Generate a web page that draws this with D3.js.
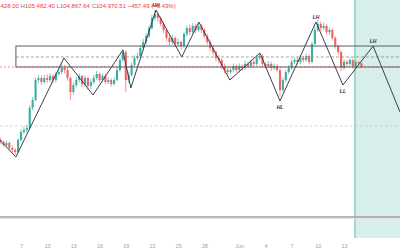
<!DOCTYPE html>
<html>
<head>
<meta charset="utf-8">
<script src="https://cdn.jsdelivr.net/npm/d3@7"></script>
<style>
  html, body { margin: 0; padding: 0; background: #fff; overflow: hidden; }
  text { font-family: "Liberation Sans", Arial, sans-serif; }
</style>
</head>
<body>
<div id="chart"></div>
<script>
const colorpel = {
    'up': '#26a69a', 'down': '#ef5350', 'zig': '#3f3f46', 'box': '#5d5d63',
    'price': '#f23645', 'proj': '#d7eeea', 'projEdge': '#5bbba9',
    'axis': '#9ea2ab', 'level': '#a0a0a0', 'label': '#787b86'}

let width = 400, height = 250;

// 8h candles, first one at May 4 16:00
const candleStart = '2025-05-04T16:00';
const firstOpen = 96100;
const closes = [
    95850, 95485, 95728, 95120, 94877, 94634, 96093, 97066, 97309, 97552,
    100000, 100960, 103390, 103630, 103150, 103630, 103390, 103880, 103390, 104120,
    104360, 104850, 104600, 103630, 101930, 102780, 103390, 103880, 102900, 103630,
    102660, 103150, 103630, 104120, 103390, 103880, 103150, 103390, 102900, 103390,
    104600, 105820, 106790, 103390, 104000, 105210, 106060, 106310, 107280, 108010,
    108740, 109710, 110930, 111410, 110930, 110200, 109470, 108500, 108010, 108500,
    107770, 108010, 107520, 108980, 109710, 109230, 109960, 109470, 109960, 109470,
    108740, 108010, 107280, 106790, 106060, 105820, 105090, 104600, 104360, 104600,
    105090, 104600, 105090, 104850, 105340, 105090, 105580, 105340, 106060, 106310,
    105340, 105090, 105340, 104850, 105090, 104600, 102170, 103390, 104360, 104850,
    105580, 105820, 105580, 106060, 105820, 106310, 105580, 107770, 109470, 110200,
    109710, 109960, 109230, 109470, 108500, 107520, 106790, 104850, 105580, 105340,
    105820, 105090, 105580, 105430, 104970];
const highs = [
    96350, 96050, 96000, 95900, 95400, 95100, 96300, 97400, 97700, 97900,
    100300, 101300, 103700, 104000, 103900, 104000, 104100, 104200, 104100, 104400,
    104700, 105300, 105200, 104900, 103800, 103100, 103800, 104200, 104000, 103900,
    103800, 103500, 104000, 104500, 104300, 104200, 104100, 103700, 103600, 103700,
    104900, 106100, 107100, 107000, 104400, 105500, 106400, 106700, 107600, 108400,
    109100, 110000, 111300, 111900, 111700, 111200, 110500, 109700, 108800, 108900,
    108700, 108400, 108200, 109300, 110000, 110100, 110300, 110200, 110300, 110200,
    109700, 109000, 108300, 107600, 107000, 106400, 106000, 105400, 104900, 104900,
    105400, 105300, 105400, 105300, 105700, 105600, 105900, 105800, 106400, 106600,
    106500, 105600, 105700, 105600, 105400, 105300, 104800, 103700, 104600, 105200,
    105900, 106100, 106100, 106400, 106300, 106600, 106500, 108000, 109800, 110690,
    110500, 110400, 110200, 109800, 109700, 108700, 107700, 107000, 105900, 105800,
    106100, 106000, 105800, 105700, 105482];
const lows = [
    95600, 95300, 95200, 94900, 94500, 94300, 94500, 95900, 96800, 97000,
    97400, 99700, 100800, 103000, 102800, 102900, 103000, 103100, 103000, 103100,
    103900, 104100, 104200, 103300, 100960, 101600, 102500, 103100, 102500, 102600,
    102200, 102300, 102900, 103400, 103100, 103100, 102900, 102900, 102600, 102700,
    103200, 104400, 105600, 101930, 103000, 103800, 105000, 105800, 106100, 107000,
    107800, 108500, 109500, 110600, 110500, 109900, 109100, 108100, 107600, 107700,
    107400, 107500, 107100, 107300, 108700, 108900, 109000, 109100, 109200, 109100,
    108400, 107700, 106900, 106400, 105700, 105400, 104700, 104200, 104000, 104100,
    104300, 104300, 104300, 104500, 104600, 104800, 104800, 105000, 105100, 105800,
    105000, 104800, 104800, 104500, 104600, 104300, 101400, 101900, 103100, 104100,
    104600, 105300, 105300, 105300, 105500, 105600, 105300, 105400, 107500, 109200,
    109400, 109500, 108900, 108900, 108200, 107200, 106400, 104500, 104600, 105000,
    105100, 104800, 104900, 105200, 104868];

// zigzag pivots
const pivotTimes = [
    '2025-05-04T14:00', '2025-05-06T10:00', '2025-05-11T22:00', '2025-05-15T06:00',
    '2025-05-18T16:00', '2025-05-19T14:00', '2025-05-22T11:00', '2025-05-25T10:00',
    '2025-05-27T09:00', '2025-05-30T22:00', '2025-06-03T09:00', '2025-06-05T16:00',
    '2025-06-09T19:00', '2025-06-12T21:00', '2025-06-16T08:00', '2025-06-19T10:00'];
const pivotPrices = [
    96090, 94030, 106060, 101570, 107040, 102420, 111900, 106190,
    110440, 103390, 106670, 100840, 110440, 102780, 107520, 99500];
const pivotLabels = ['', '', '', '', '', '', 'HH', '', '', '', '', 'HL', 'LH', 'LL', 'LH', ''];

const tickDates = ['2025-05-07', '2025-05-10', '2025-05-13', '2025-05-16', '2025-05-19',
    '2025-05-22', '2025-05-25', '2025-05-28', '2025-06-01', '2025-06-04', '2025-06-07',
    '2025-06-10', '2025-06-13'];
const tickLabels = ['7', '10', '13', '16', '19', '22', '25', '28', 'Jun', '4', '7', '10', '13'];

const boxStart = '2025-05-06T10:00';
const boxLevels = [107520, 106190, 104970]; // top, mid, bottom
const lastPrice = 104970;
const dashedLevel = 97800, solidLevel = 86730;
const projStart = '2025-06-14T06:00';

// legend, as much of it as the window shows
const header = [['428.00 ', 'price'], ['H', 'label'], ['105,482.40 ', 'price'],
    ['L', 'label'], ['104,867.64 ', 'price'], ['C', 'label'], ['104,970.51 ', 'price'],
    ['\u2212457.49 (\u22120.43%)', 'price']];

const parse = s => new Date(s);
const hour = 3600 * 1000;

let x = d3.scaleTime()
    .domain([parse('2025-05-07T00:00'), parse('2025-06-13T00:00')])
    .range([21, 344]);
let y = d3.scaleLinear().domain([94030, 111900]).range([157, 10]);

const candles = closes.map((c, i) => ({
    t: new Date(parse(candleStart).getTime() + i * 8 * hour),
    o: i === 0 ? firstOpen : closes[i - 1],
    h: highs[i], l: lows[i], c: c
}));

const chart = () => {
    let svg = d3.select('#chart').append('svg')
        .attr('width', width).attr('height', height);

    let plotBottom = 238;

    // projection area
    let px = x(parse(projStart));
    svg.append('rect')
        .attr('x', px).attr('y', 0)
        .attr('width', width - px).attr('height', plotBottom)
        .attr('fill', colorpel.proj);
    svg.append('line')
        .attr('x1', px).attr('x2', px).attr('y1', 0).attr('y2', plotBottom)
        .attr('stroke', colorpel.projEdge).attr('stroke-width', 1);

    // horizontal levels
    svg.append('line')
        .attr('x1', 0).attr('x2', width)
        .attr('y1', y(dashedLevel)).attr('y2', y(dashedLevel))
        .attr('stroke', '#c4c4c4').attr('stroke-width', 0.8)
        .attr('stroke-dasharray', '2.5,2.5');
    svg.append('line')
        .attr('x1', 0).attr('x2', width)
        .attr('y1', y(solidLevel)).attr('y2', y(solidLevel))
        .attr('stroke', colorpel.level).attr('stroke-width', 1.6);
    svg.append('line')
        .attr('x1', 0).attr('x2', width)
        .attr('y1', y(solidLevel) + 1.6).attr('y2', y(solidLevel) + 1.6)
        .attr('stroke', '#e2e2e2').attr('stroke-width', 1);

    // candles
    let g_c = svg.append('g').attr('class', 'candles');
    let bw = (x(new Date(8 * hour)) - x(new Date(0))) * 0.72;
    let cg = g_c.selectAll('g').data(candles).enter().append('g')
        .attr('opacity', 0.9);
    cg.append('line')
        .attr('x1', d => x(d.t)).attr('x2', d => x(d.t))
        .attr('y1', d => y(d.h)).attr('y2', d => y(d.l))
        .attr('stroke', d => d.c >= d.o ? colorpel.up : colorpel.down)
        .attr('stroke-width', 0.7);
    cg.append('rect')
        .attr('x', d => x(d.t) - bw / 2)
        .attr('width', bw)
        .attr('y', d => y(Math.max(d.o, d.c)))
        .attr('height', d => Math.max(0.8, Math.abs(y(d.o) - y(d.c))))
        .attr('fill', d => d.c >= d.o ? colorpel.up : colorpel.down);

    // box
    let bx = x(parse(boxStart));
    svg.append('rect')
        .attr('x', bx).attr('y', y(boxLevels[0]))
        .attr('width', width - bx + 2)
        .attr('height', y(boxLevels[2]) - y(boxLevels[0]))
        .attr('fill', 'none').attr('stroke', colorpel.box).attr('stroke-width', 1);
    svg.append('line')
        .attr('x1', bx).attr('x2', width)
        .attr('y1', y(boxLevels[1])).attr('y2', y(boxLevels[1]))
        .attr('stroke', '#8a8a8a').attr('stroke-width', 0.8)
        .attr('stroke-dasharray', '3,2');

    // last price line
    svg.append('line')
        .attr('x1', 0).attr('x2', width)
        .attr('y1', y(lastPrice)).attr('y2', y(lastPrice))
        .attr('stroke', colorpel.price).attr('stroke-width', 0.8)
        .attr('stroke-opacity', 0.7)
        .attr('stroke-dasharray', '2,2');

    // zigzag
    let pivots = pivotTimes.map((t, i) => ({t: parse(t), p: pivotPrices[i], lab: pivotLabels[i]}));
    let zig = d3.line().x(d => x(d.t)).y(d => y(d.p));
    svg.append('path')
        .datum(pivots)
        .attr('d', zig)
        .attr('fill', 'none')
        .attr('stroke', colorpel.zig)
        .attr('stroke-width', 1)
        .attr('stroke-linejoin', 'miter');

    svg.append('g').selectAll('text')
        .data(pivots.filter((d, i) => d.lab && i > 0))
        .enter().append('text')
        .attr('x', d => x(d.t))
        .attr('y', d => d.lab[1] === 'H' ? y(d.p) - 3 : y(d.p) + 8)
        .attr('text-anchor', 'middle')
        .attr('font-size', 5)
        .attr('font-weight', 'bold')
        .attr('font-style', 'italic')
        .attr('fill', '#2a2e39')
        .text(d => d.lab);

    // x axis
    let ax = d3.axisBottom(x)
        .tickValues(tickDates.map(parse))
        .tickFormat((d, i) => tickLabels[i])
        .tickSize(0);
    let g_ax = svg.append('g')
        .attr('transform', 'translate(0,' + 241 + ')')
        .call(ax);
    g_ax.select('.domain').remove();
    g_ax.selectAll('text')
        .attr('font-size', 5.5)
        .attr('font-family', '"Liberation Sans", Arial, sans-serif')
        .attr('fill', colorpel.axis);

    // header legend
    let ht = svg.append('text')
        .attr('x', 0.5).attr('y', 7.5)
        .attr('font-size', 6);
    ht.selectAll('tspan').data(header).enter().append('tspan')
        .attr('fill', d => colorpel[d[1]])
        .text(d => d[0]);

    return svg.node();
}

chart();
</script>
</body>
</html>
